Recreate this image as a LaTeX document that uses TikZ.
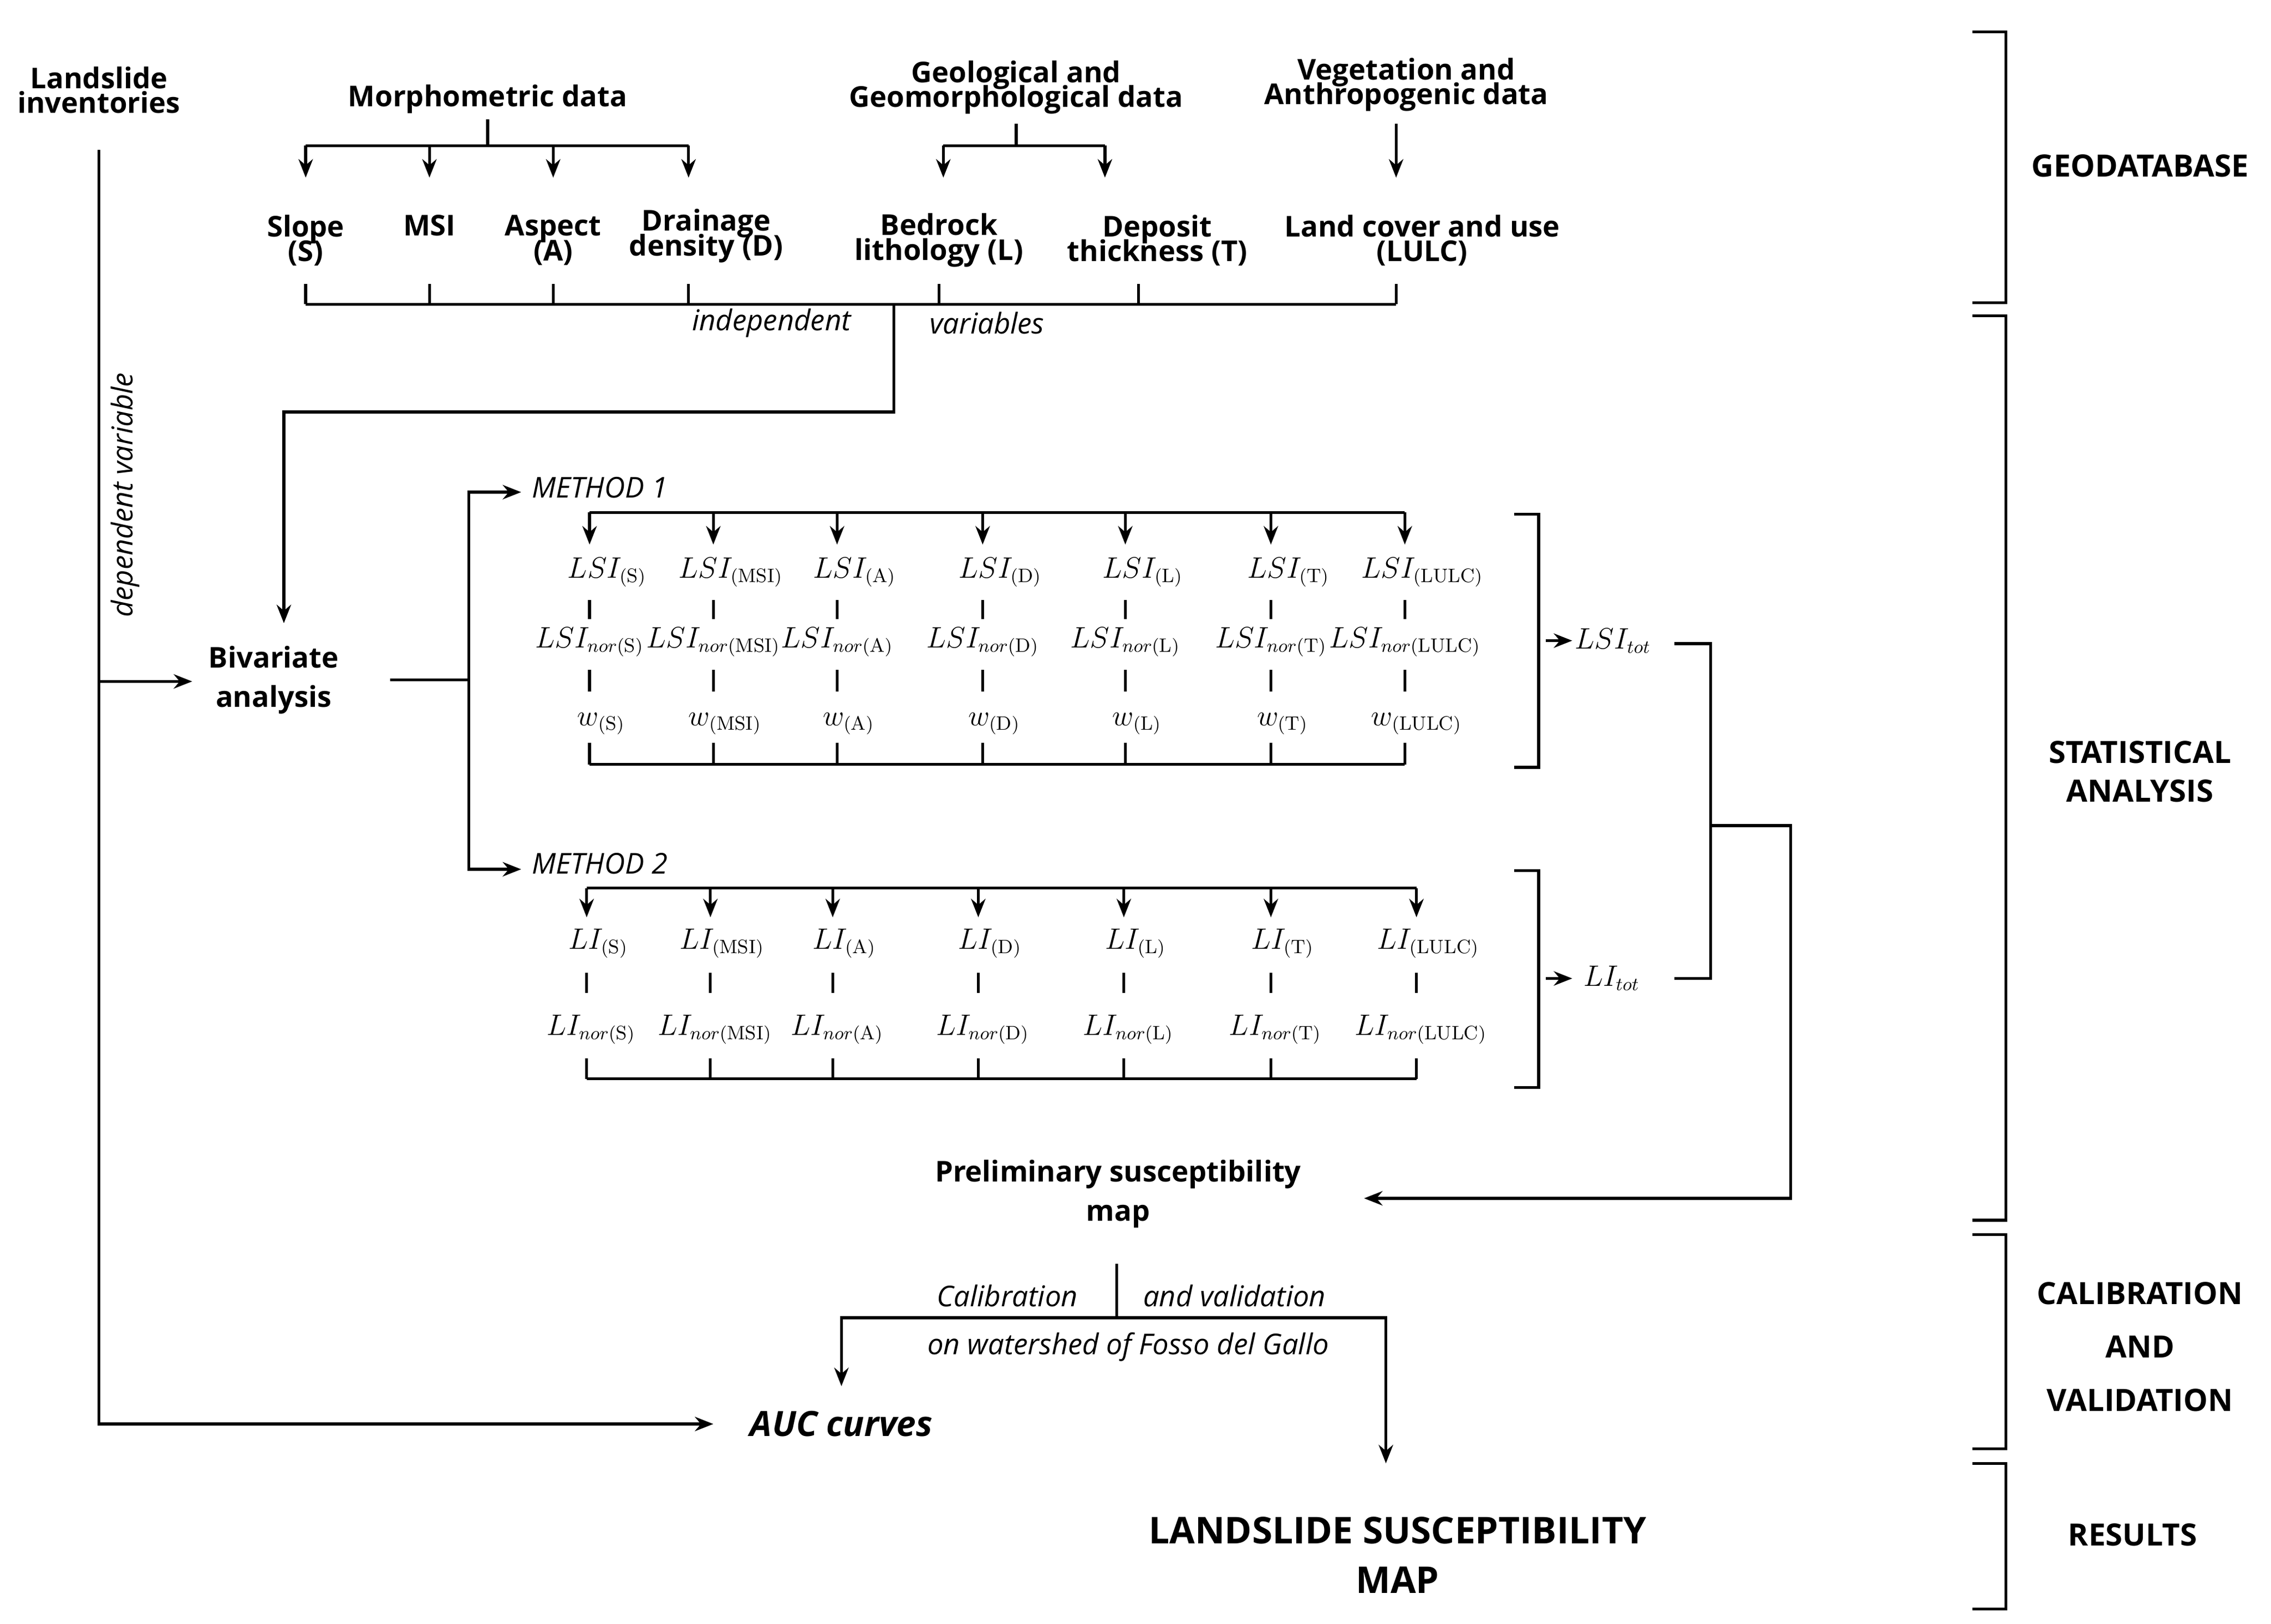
\documentclass[tikz,border=0pt]{standalone}
\usepackage{fontspec}
\setmainfont{Open Sans}
\setmathrm{Latin Modern Roman}
\usetikzlibrary{arrows.meta}
\begin{document}
\begin{tikzpicture}[x=0.025cm,y=-0.025cm,line width=1.4pt,
  ar/.style={-{Stealth[length=9pt,width=7pt]}},
  lb/.style={font=\fontsize{14}{15}\selectfont\bfseries,align=center,inner sep=0pt},
  it/.style={font=\fontsize{14}{15}\selectfont\itshape,inner sep=1pt},
  mt/.style={font=\fontsize{13.5}{15}\selectfont,inner sep=0pt},
  rt/.style={font=\fontsize{15}{19}\selectfont\bfseries,align=center,inner sep=0pt}]
\useasboundingbox (0,0) rectangle (1560,1115);
% geodatabase
\node[lb] (inv) at (68,62) {Landslide\\[-3pt]inventories};
\node[lb] (morph) at (335,68) {Morphometric data};
\node[lb] (geo) at (698,60) {Geological and\\[-3pt]Geomorphological data};
\node[lb] (veg) at (966,58) {Vegetation and\\[-3pt]Anthropogenic data};
\draw (335,82) -- (335,100);
\draw (210,100) -- (473,100);
\foreach \x in {210,295,380,473} \draw[ar] (\x,100) -- (\x,122);
\draw (698,85) -- (698,100); \draw (648,100) -- (759,100);
\foreach \x in {648,759} \draw[ar] (\x,100) -- (\x,122);
\draw[ar] (959,85) -- (959,122);
\node[lb] (s) at (210,165) {Slope\\[-3pt](S)};
\node[lb] (msi) at (295,155) {MSI};
\node[lb] (a) at (380,165) {Aspect\\[-3pt](A)};
\node[lb] (d) at (485,162) {Drainage\\[-3pt]density (D)};
\node[lb] (l) at (645,165) {Bedrock\\[-3pt]lithology (L)};
\node[lb] (t) at (795,165) {Deposit\\[-3pt]thickness (T)};
\node[lb] (lulc) at (977,165) {Land cover and use\\[-3pt](LULC)};
\draw (210,209) -- (959,209);
\foreach \x in {210,295,380,473,645,782,959} \draw (\x,195) -- (\x,209);
\node[it] at (530,222) {independent};
\node[it] at (678,222) {variables};
\coordinate (j) at (614,209);
\node[lb] (biv) at (188,467) {Bivariate\\[4pt]analysis};
\draw[ar] (j) -- (614,283) -- (195,283) -- (195,428);
% dependent
\draw[ar] (68,103) -- (68,978) -- (490,978);
\draw[ar] (68,468) -- (132,468);
\node[it,rotate=90] at (86,340) {dependent variable};
\node[font=\fontsize{17}{19}\selectfont\bfseries\itshape] (auc) at (578,978) {AUC curves};
% methods
\draw (268,467) -- (322,467);
\draw[ar] (322,467) -- (322,338) -- (358,338);
\draw[ar] (322,467) -- (322,597) -- (358,597);
\node[it,anchor=west] at (363,335) {METHOD 1};
\node[it,anchor=west] at (363,593) {METHOD 2};
% method 1
\draw (405,352) -- (965,352);
\draw (405,525) -- (965,525);
\foreach \x/\s in {405/(\mathrm{S}),490/(\mathrm{MSI}),575/(\mathrm{A}),675/(\mathrm{D}),773/(\mathrm{L}),873/(\mathrm{T}),965/(\mathrm{LULC})}{
  \draw[ar] (\x,352) -- (\x,374);
  \node[mt] at (\x+12,393) {$LSI_{\s}$};
  \draw (\x,412) -- (\x,425);
  \node[mt] at (\x,441) {$LSI_{nor\s}$};
  \draw (\x,460) -- (\x,475);
  \node[mt] at (\x+8,497) {$w_{\s}$};
  \draw (\x,510) -- (\x,525);
}
\draw (1040,353) -- (1057,353) -- (1057,527) -- (1040,527);
\draw[ar] (1062,440) -- (1080,440);
\node[mt] (lsitot) at (1108,440) {$LSI_{tot}$};
% method 2
\draw (403,610) -- (973,610);
\draw (403,741) -- (973,741);
\foreach \x/\s in {403/(\mathrm{S}),488/(\mathrm{MSI}),572/(\mathrm{A}),672/(\mathrm{D}),772/(\mathrm{L}),873/(\mathrm{T}),973/(\mathrm{LULC})}{
  \draw[ar] (\x,610) -- (\x,630);
  \node[mt] at (\x+8,648) {$LI_{\s}$};
  \draw (\x,668) -- (\x,682);
  \node[mt] at (\x+3,707) {$LI_{nor\s}$};
  \draw (\x,727) -- (\x,741);
}
\draw (1040,598) -- (1057,598) -- (1057,747) -- (1040,747);
\draw[ar] (1062,672) -- (1080,672);
\node[mt] (litot) at (1107,672) {$LI_{tot}$};
\draw (1150,442) -- (1175,442) -- (1175,672) -- (1150,672);
\node[lb] (pre) at (768,820) {Preliminary susceptibility\\[4pt]map};
\draw[ar] (1175,567) -- (1230,567) -- (1230,823) -- (937,823);
% calibration
\draw (767,868) -- (767,905);
\draw[ar] (767,905) -- (578,905) -- (578,952);
\draw[ar] (767,905) -- (952,905) -- (952,1005);
\node[it] at (692,890) {Calibration};
\node[it] at (848,890) {and validation};
\node[it] at (775,925) {on watershed of Fosso del Gallo};
\node[font=\fontsize{18}{24}\selectfont\bfseries,align=center] (map) at (960,1068) {LANDSLIDE SUSCEPTIBILITY\\MAP};
% right braces
\foreach \a/\b in {22/208,217/838,848/995,1005/1105}
  \draw (1355,\a) -- (1378,\a) -- (1378,\b) -- (1355,\b);
\node[rt] at (1470,114) {GEODATABASE};
\node[rt] at (1470,530) {STATISTICAL\\ANALYSIS};
\node[rt,font=\fontsize{15}{26}\selectfont\bfseries] at (1470,925) {CALIBRATION\\AND\\VALIDATION};
\node[rt] at (1465,1054) {RESULTS};
\end{tikzpicture}
\end{document}
